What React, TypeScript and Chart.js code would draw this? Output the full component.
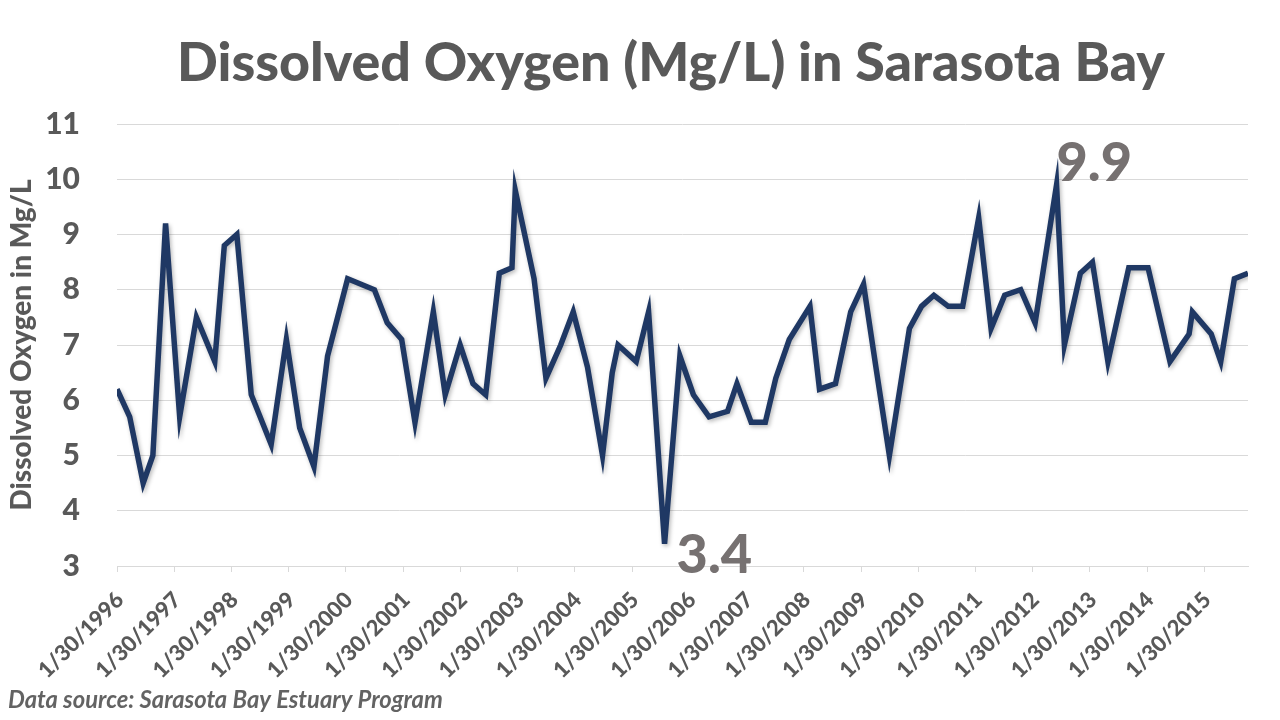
import React, { useEffect, useRef } from 'react';
import { Chart, registerables } from 'chart.js';

Chart.register(...registerables);

const chartTitle = 'Dissolved Oxygen (Mg/L) in Sarasota Bay';
const yAxisTitle = 'Dissolved Oxygen in Mg/L';
const sourceNote = 'Data source: Sarasota Bay Estuary Program';

const xTickLabels = [
  '1/30/1996', '1/30/1997', '1/30/1998', '1/30/1999', '1/30/2000',
  '1/30/2001', '1/30/2002', '1/30/2003', '1/30/2004', '1/30/2005',
  '1/30/2006', '1/30/2007', '1/30/2008', '1/30/2009', '1/30/2010',
  '1/30/2011', '1/30/2012', '1/30/2013', '1/30/2014', '1/30/2015',
];

const sampleDates = [
  '1996-01-30', '1996-04-20', '1996-07-15', '1996-09-15', '1996-12-05',
  '1997-03-05', '1997-06-20', '1997-10-15', '1997-12-15', '1998-03-05',
  '1998-06-05', '1998-10-10', '1999-01-15', '1999-04-10', '1999-07-10',
  '1999-10-05', '2000-02-10', '2000-07-30', '2000-10-20', '2001-01-20',
  '2001-04-15', '2001-08-10', '2001-10-25', '2002-01-28', '2002-04-20',
  '2002-07-10', '2002-10-05', '2002-12-25', '2003-01-15', '2003-05-15',
  '2003-07-30', '2003-11-01', '2004-01-20', '2004-04-20', '2004-07-25',
  '2004-09-25', '2004-11-01', '2005-02-25', '2005-05-15', '2005-08-25',
  '2005-12-01', '2006-02-25', '2006-06-05', '2006-10-01', '2006-11-30',
  '2007-03-01', '2007-05-30', '2007-08-05', '2007-10-30', '2008-03-10',
  '2008-05-10', '2008-08-20', '2008-11-25', '2009-02-15', '2009-05-05',
  '2009-07-30', '2009-12-05', '2010-02-20', '2010-05-10', '2010-08-10',
  '2010-11-10', '2011-02-20', '2011-05-10', '2011-08-05', '2011-11-15',
  '2012-02-15', '2012-07-01', '2012-08-20', '2012-11-30', '2013-02-15',
  '2013-05-25', '2013-10-05', '2014-02-05', '2014-06-25', '2014-10-25',
  '2014-11-15', '2015-03-15', '2015-05-15', '2015-08-10', '2015-11-05',
];

const doValues = [
  6.2, 5.7, 4.5, 5.0, 9.2,
  5.7, 7.5, 6.7, 8.8, 9.0,
  6.1, 5.2, 7.1, 5.5, 4.8,
  6.8, 8.2, 8.0, 7.4, 7.1,
  5.6, 7.6, 6.1, 7.0, 6.3,
  6.1, 8.3, 8.4, 9.8, 8.2,
  6.4, 7.0, 7.6, 6.6, 5.0,
  6.5, 7.0, 6.7, 7.6, 3.4,
  6.8, 6.1, 5.7, 5.8, 6.3,
  5.6, 5.6, 6.4, 7.1, 7.7,
  6.2, 6.3, 7.6, 8.1, 6.6,
  5.0, 7.3, 7.7, 7.9, 7.7,
  7.7, 9.3, 7.3, 7.9, 8.0,
  7.4, 9.9, 7.0, 8.3, 8.5,
  6.7, 8.4, 8.4, 6.7, 7.2,
  7.6, 7.2, 6.7, 8.2, 8.3,
];

const isoToMs = (s: string) => {
  const [y, m, d] = s.split('-').map(Number);
  return Date.UTC(y, m - 1, d);
};
const labelToMs = (s: string) => {
  const [m, d, y] = s.split('/').map(Number);
  return Date.UTC(y, m - 1, d);
};

const FONT = 'Lato, "Open Sans", sans-serif';

function fitFont(ctx: CanvasRenderingContext2D, text: string, style: string, target: number, start: number) {
  ctx.font = `${style} ${start}px ${FONT}`;
  const w = ctx.measureText(text).width;
  const size = (start * target) / w;
  ctx.font = `${style} ${size}px ${FONT}`;
}

export default function App() {
  const canvasRef = useRef<HTMLCanvasElement | null>(null);

  useEffect(() => {
    const canvas = canvasRef.current;
    if (!canvas) return;
    const points = sampleDates.map((d, i) => ({ x: isoToMs(d), y: doValues[i] }));
    const tickValues = xTickLabels.map(labelToMs);

    let maxI = 0;
    let minI = 0;
    doValues.forEach((v, i) => {
      if (v > doValues[maxI]) maxI = i;
      if (v < doValues[minI]) minI = i;
    });

    const shadowPlugin = {
      id: 'lineShadow',
      beforeDatasetsDraw(chart: any) {
        const ctx = chart.ctx;
        ctx.save();
        ctx.shadowColor = 'rgba(0,0,0,0.28)';
        ctx.shadowBlur = 4;
        ctx.shadowOffsetX = 1.5;
        ctx.shadowOffsetY = 2;
      },
      afterDatasetsDraw(chart: any) {
        chart.ctx.restore();
      },
    };

    const textPlugin = {
      id: 'textOverlay',
      afterDraw(chart: any) {
        const ctx = chart.ctx;
        const xs = chart.scales.x;
        const ys = chart.scales.y;
        ctx.save();
        ctx.fillStyle = '#595959';
        ctx.textBaseline = 'alphabetic';
        ctx.textAlign = 'center';
        fitFont(ctx, chartTitle, '900', 988, 52);
        ctx.fillText(chartTitle, 671, 81);

        ctx.textAlign = 'left';
        fitFont(ctx, sourceNote, 'italic bold', 435, 22);
        ctx.fillStyle = '#636363';
        ctx.fillText(sourceNote, 8, 708);

        ctx.fillStyle = '#767171';
        ctx.font = `900 54px ${FONT}`;
        const mx = xs.getPixelForValue(points[maxI].x);
        const my = ys.getPixelForValue(points[maxI].y);
        ctx.fillText(doValues[maxI].toFixed(1), mx, my - 4);
        const nx = xs.getPixelForValue(points[minI].x);
        const ny = ys.getPixelForValue(points[minI].y);
        ctx.fillText(doValues[minI].toFixed(1), nx + 12, ny + 29);
        ctx.restore();
      },
    };

    const chart = new Chart(canvas, {
      type: 'line',
      data: {
        datasets: [
          {
            label: 'Dissolved Oxygen',
            data: points,
            borderColor: '#1f3864',
            borderWidth: 5.5,
            borderJoinStyle: 'miter',
            pointRadius: 0,
            tension: 0,
            fill: false,
          },
        ],
      },
      options: {
        responsive: false,
        animation: false,
        layout: { padding: { top: 124, right: 32, left: 0, bottom: 0 } },
        plugins: {
          legend: { display: false },
          tooltip: { enabled: false },
          title: { display: false },
        },
        scales: {
          x: {
            type: 'linear',
            min: tickValues[0],
            max: points[points.length - 1].x,
            afterBuildTicks: (s: any) => {
              s.ticks = tickValues.map((v) => ({ value: v }));
            },
            afterFit: (s: any) => {
              s.height = 154;
            },
            ticks: {
              autoSkip: false,
              minRotation: 45,
              maxRotation: 45,
              color: '#595959',
              font: { family: FONT, size: 22, weight: '900' },
              padding: 15,
              labelOffset: 3,
              callback: (_v: any, i: number) => xTickLabels[i],
            },
            grid: { drawOnChartArea: false, drawTicks: true, tickLength: 6, color: '#d9d9d9' },
            border: { display: true, color: '#d9d9d9' },
          },
          y: {
            min: 3,
            max: 11,
            afterFit: (s: any) => {
              s.width = 117;
            },
            ticks: {
              stepSize: 1,
              color: '#595959',
              font: { family: FONT, size: 30, weight: '900' },
              padding: 37,
            },
            grid: { color: '#d9d9d9', drawTicks: false },
            border: { display: false },
            title: {
              display: true,
              text: yAxisTitle,
              color: '#595959',
              font: { family: FONT, size: 28, weight: '900' },
              padding: { top: 5, bottom: 0 },
            },
          },
        },
      },
      plugins: [shadowPlugin, textPlugin],
    } as any);

    return () => chart.destroy();
  }, []);

  return (
    <div style={{ position: 'fixed', left: 0, top: 0, width: 1280, height: 720, background: '#fff' }}>
      <canvas ref={canvasRef} width={1280} height={720} />
    </div>
  );
}
